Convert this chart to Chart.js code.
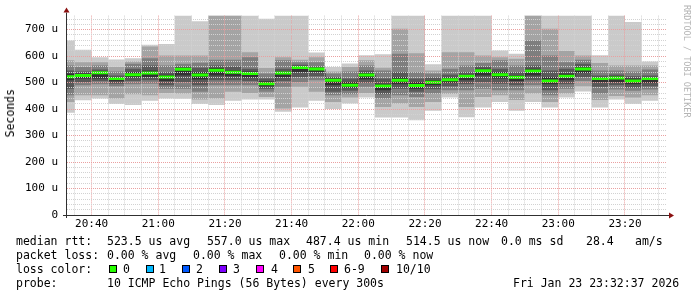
<!DOCTYPE html>
<html lang="en">
<head>
    <meta charset="UTF-8">
    <title>Median RTT - SmokePing</title>
    <style>
        html, body { margin: 0; padding: 0; background: #fff; }
        #wrap { position: relative; width: 697px; height: 297px; font-family: 'DejaVu Sans Mono', monospace; color: #000; }
        #chart { position: absolute; left: 0; top: 0; }
        .t { position: absolute; white-space: pre; font-size: 11.5px; line-height: 14px; height: 14px; }
        .box { position: absolute; width: 6px; height: 6px; border: 1px solid #000; }
        #ylab { position: absolute; left: 3px; top: 89px; writing-mode: vertical-rl; transform: rotate(180deg); font-size: 11.5px; line-height: 14px; }
        #mark { position: absolute; left: 682px; top: 5px; writing-mode: vertical-rl; font-size: 8.5px; line-height: 10px; color: #b4b4b4; }
    </style>
    <script src="https://cdn.jsdelivr.net/npm/chart.js"></script>
</head>
<body>
<div id="wrap">
    <canvas id="chart" width="697" height="297"></canvas>

    <div id="ylab">Seconds</div>
    <div id="mark">RRDTOOL / TOBI OETIKER</div>

    <!-- legend block, rrdtool style -->
    <span class="t" style="left:16px;top:234px">median rtt:</span>
    <span class="t" style="left:107px;top:234px">523.5 us avg</span>
    <span class="t" style="left:207px;top:234px">557.0 us max</span>
    <span class="t" style="left:306px;top:234px">487.4 us min</span>
    <span class="t" style="left:406px;top:234px">514.5 us now</span>
    <span class="t" style="left:501px;top:234px">0.0 ms sd</span>
    <span class="t" style="left:586px;top:234px">28.4</span>
    <span class="t" style="left:635px;top:234px">am/s</span>

    <span class="t" style="left:16px;top:248px">packet loss:</span>
    <span class="t" style="left:107px;top:248px">0.00 % avg</span>
    <span class="t" style="left:193px;top:248px">0.00 % max</span>
    <span class="t" style="left:279px;top:248px">0.00 % min</span>
    <span class="t" style="left:364px;top:248px">0.00 % now</span>

    <span class="t" style="left:16px;top:262px">loss color:</span>
    <div id="lossColors"></div>

    <span class="t" style="left:16px;top:276px">probe:</span>
    <span class="t" style="left:107px;top:276px">10 ICMP Echo Pings (56 Bytes) every 300s</span>
    <span class="t" style="left:513px;top:276px">Fri Jan 23 23:32:37 2026</span>
</div>

<script>
    // rrd timestamps (end of each 5 minute step)
    var times = ['20:35', '20:40', '20:45', '20:50', '20:55', '21:00', '21:05', '21:10', '21:15',
                 '21:20', '21:25', '21:30', '21:35', '21:40', '21:45', '21:50', '21:55', '22:00',
                 '22:05', '22:10', '22:15', '22:20', '22:25', '22:30', '22:35', '22:40', '22:45',
                 '22:50', '22:55', '23:00', '23:05', '23:10', '23:15', '23:20', '23:25', '23:30'];

    // the 10 pings of every step, sorted (rtt1 = fastest, rtt10 = slowest), in us
    var rtt1  = [386, 433, 440, 419, 415, 431, 440, 439, 419, 415, 431, 436, 436, 390, 406, 431, 400, 421,
                 444, 368, 368, 358, 394, 444, 369, 406, 427, 394, 427, 406, 444, 466, 406, 436, 419, 431];
    var rtt2  = [427, 452, 452, 440, 456, 452, 461, 459, 436, 440, 465, 461, 446, 402, 484, 465, 427, 444,
                 461, 408, 421, 408, 427, 458, 408, 446, 452, 434, 459, 427, 459, 486, 434, 449, 444, 452];
    var rtt3  = [452, 490, 494, 486, 494, 496, 477, 477, 465, 490, 490, 490, 465, 484, 502, 509, 452, 456,
                 484, 440, 452, 446, 459, 471, 471, 477, 471, 471, 490, 452, 477, 506, 459, 474, 469, 474];
    var rtt4  = [477, 502, 506, 496, 506, 509, 490, 502, 490, 509, 509, 506, 477, 506, 521, 524, 465, 469,
                 499, 456, 477, 465, 475, 486, 494, 502, 496, 490, 509, 471, 494, 521, 484, 490, 481, 486];
    var rtt5  = [509, 515, 515, 505, 519, 521, 506, 527, 512, 527, 524, 519, 486, 521, 540, 540, 490, 481,
                 512, 471, 494, 477, 490, 499, 509, 527, 515, 506, 527, 494, 509, 536, 502, 502, 494, 499];
    var rtt6  = [534, 534, 541, 521, 540, 546, 530, 556, 540, 555, 546, 542, 505, 542, 562, 556, 515, 502,
                 536, 496, 521, 502, 509, 519, 530, 552, 540, 527, 552, 521, 534, 559, 521, 524, 515, 521];
    var rtt7  = [546, 542, 549, 527, 552, 565, 540, 561, 556, 565, 561, 552, 515, 552, 567, 561, 521, 515,
                 546, 515, 540, 515, 519, 531, 540, 561, 552, 540, 565, 546, 552, 571, 527, 531, 524, 527];
    var rtt8  = [565, 559, 565, 542, 571, 592, 565, 571, 575, 586, 586, 596, 534, 584, 577, 577, 534, 542,
                 565, 546, 609, 540, 534, 552, 565, 574, 584, 565, 659, 602, 577, 586, 546, 546, 542, 549];
    var rtt9  = [584, 577, 577, 559, 580, 636, 602, 602, 602, 790, 810, 615, 555, 596, 586, 596, 542, 559,
                 584, 556, 703, 611, 546, 615, 615, 602, 596, 590, 800, 703, 619, 602, 574, 565, 565, 565];
    var rtt10 = [659, 624, 596, 587, 592, 643, 646, 820, 732, 860, 880, 790, 741, 830, 810, 614, 559, 572,
                 603, 607, 850, 840, 569, 800, 790, 810, 621, 609, 900, 870, 800, 790, 603, 780, 729, 580];
    var medianRtt = [522, 527, 537, 515, 530, 536, 521, 550, 529, 547, 539, 534, 496, 536, 557, 551, 509, 490,
                     529, 487, 509, 489, 501, 511, 524, 545, 530, 520, 544, 506, 524, 551, 515, 517, 506, 515];

    var xTickLabels = ['20:40', '21:00', '21:20', '21:40', '22:00', '22:20', '22:40', '23:00', '23:20'];
    var yTickLabels = [0, 100, 200, 300, 400, 500, 600, 700];

    var graphEnd = '23:32:37';
    var graphSpan = 180;   // minutes shown
    var rrdStep = 5;       // minutes per step
    var yMax = 753;
    var yMinorStep = 20;
    var medianHalfWidth = 5.6;

    var smokeColors = ['#cacaca', '#a4a4a4', '#7e7e7e', '#585858', '#323232'];
    var lossGreen = '#26ff00';
    var lossColors = [['0', '#26ff00'], ['1', '#00b8ff'], ['2', '#0059ff'], ['3', '#7e00ff'],
                      ['4', '#ff00ff'], ['5', '#ff5500'], ['6-9', '#ff0000'], ['10/10', '#a10000']];

    function toMin(s) {
        var p = s.split(':').map(Number);
        return p[0] * 60 + p[1] + (p[2] || 0) / 60;
    }

    // value at time t covers (t - step, t]
    function steps(values) {
        var pts = [{ x: toMin(times[0]) - rrdStep, y: values[0] }];
        for (var i = 0; i < times.length; i++) {
            pts.push({ x: toMin(times[i]), y: values[i] });
        }
        return pts;
    }

    var xEnd = toMin(graphEnd);
    var xStart = xEnd - graphSpan;
    var xMajor = xTickLabels.map(toMin);

    var ranks = [rtt1, rtt2, rtt3, rtt4, rtt5, rtt6, rtt7, rtt8, rtt9, rtt10];
    var datasets = [];
    ranks.forEach(function (vals, i) {
        var ds = {
            label: 'rtt' + (i + 1),
            data: steps(vals),
            stepped: 'after',
            borderWidth: 0,
            borderColor: 'transparent',
            pointRadius: 0,
            fill: false,
            order: 20
        };
        if (i >= 5) {
            var band = 9 - i;
            ds.fill = band;
            ds.backgroundColor = smokeColors[band];
            ds.order = 14 - band;
        }
        datasets.push(ds);
    });

    datasets.push({
        label: 'median low',
        data: steps(medianRtt.map(function (v) { return v - medianHalfWidth; })),
        stepped: 'after', borderWidth: 0, borderColor: 'transparent', pointRadius: 0, fill: false, order: 0
    });
    datasets.push({
        label: 'median',
        data: steps(medianRtt.map(function (v) { return v + medianHalfWidth; })),
        stepped: 'after', borderWidth: 0, borderColor: 'transparent', pointRadius: 0,
        fill: 10, backgroundColor: lossGreen, order: 0
    });
    datasets.push({
        label: 'median line',
        data: steps(medianRtt),
        stepped: 'after', borderWidth: 1, borderColor: '#202020', pointRadius: 0, fill: false, order: 1
    });

    // axis lines + arrows like rrdtool
    var rrdAxes = {
        id: 'rrdAxes',
        afterDraw: function (chart) {
            var a = chart.chartArea, ctx = chart.ctx;
            var ax = a.left - 0.5, ay = a.bottom + 0.5;
            ctx.save();
            ctx.strokeStyle = '#303030';
            ctx.lineWidth = 1;
            ctx.beginPath();
            ctx.moveTo(a.left - 4, ay);
            ctx.lineTo(a.right + 3, ay);
            ctx.moveTo(ax, a.bottom + 3);
            ctx.lineTo(ax, a.top - 3);
            ctx.stroke();
            ctx.fillStyle = '#8b1010';
            ctx.beginPath();
            ctx.moveTo(ax, a.top - 8);
            ctx.lineTo(ax - 3, a.top - 3);
            ctx.lineTo(ax + 3, a.top - 3);
            ctx.closePath();
            ctx.fill();
            ctx.beginPath();
            ctx.moveTo(a.right + 7, ay);
            ctx.lineTo(a.right + 2, ay - 3);
            ctx.lineTo(a.right + 2, ay + 3);
            ctx.closePath();
            ctx.fill();
            ctx.restore();
        }
    };

    Chart.defaults.font.family = "'DejaVu Sans Mono', monospace";
    Chart.defaults.font.size = 11;
    Chart.defaults.color = '#000';

    new Chart(document.getElementById('chart'), {
        type: 'line',
        data: { datasets: datasets },
        options: {
            responsive: false,
            devicePixelRatio: 1,
            animation: false,
            layout: { padding: { left: 0, right: 30, top: 15, bottom: 0 } },
            plugins: { legend: { display: false }, tooltip: { enabled: false } },
            scales: {
                x: {
                    type: 'linear',
                    min: xStart,
                    max: xEnd,
                    afterBuildTicks: function (s) {
                        s.ticks = times.map(function (t) { return { value: toMin(t) }; });
                    },
                    afterFit: function (s) { s.height = 82; },
                    ticks: {
                        autoSkip: false,
                        maxRotation: 0,
                        padding: 3,
                        callback: function (v) {
                            var k = xMajor.indexOf(v);
                            return k >= 0 ? xTickLabels[k] : '';
                        }
                    },
                    grid: {
                        z: 1,
                        drawTicks: false,
                        lineWidth: 1,
                        color: function (c) {
                            return xMajor.indexOf(c.tick.value) >= 0 ? '#eaa0a0' : '#d2d2d2';
                        }
                    },
                    border: { display: false, dash: [1, 1] }
                },
                y: {
                    min: 0,
                    max: yMax,
                    afterBuildTicks: function (s) {
                        var t = [];
                        for (var v = 0; v < yMax; v += yMinorStep) t.push({ value: v });
                        s.ticks = t;
                    },
                    afterFit: function (s) { s.width = 67; },
                    ticks: {
                        autoSkip: false,
                        padding: 9,
                        callback: function (v) {
                            if (yTickLabels.indexOf(v) < 0) return '';
                            return v === 0 ? '0' : v + ' u';
                        }
                    },
                    grid: {
                        z: 1,
                        drawTicks: false,
                        lineWidth: 1,
                        color: function (c) {
                            if (c.tick.value === 0) return 'transparent';
                            return c.tick.value % 100 === 0 ? '#eaa0a0' : '#d2d2d2';
                        }
                    },
                    border: { display: false, dash: [1, 1] }
                }
            }
        },
        plugins: [rrdAxes]
    });

    // loss colour legend row
    var lossX = [[109, 123], [146, 159], [182, 196], [219, 233], [256, 271], [293, 308], [330, 344], [381, 396]];
    var holder = document.getElementById('lossColors');
    lossColors.forEach(function (lc, i) {
        var b = document.createElement('div');
        b.className = 'box';
        b.style.left = lossX[i][0] + 'px';
        b.style.top = '265px';
        b.style.background = lc[1];
        holder.appendChild(b);
        var s = document.createElement('span');
        s.className = 't';
        s.style.left = lossX[i][1] + 'px';
        s.style.top = '262px';
        s.textContent = lc[0];
        holder.appendChild(s);
    });
</script>
</body>
</html>
